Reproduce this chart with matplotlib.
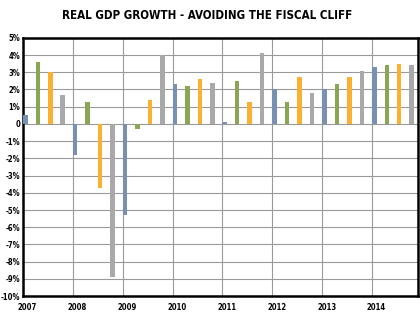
import matplotlib
matplotlib.use("Agg")
import matplotlib.pyplot as plt

years = [2007, 2008, 2009, 2010, 2011, 2012, 2013, 2014]
quarter_colors = ["#7890B2", "#8BA653", "#FCB02F", "#A9A9A9"]
# real GDP growth per quarter (%), Q1..Q4 for each year
growth = [
    [0.5, 3.6, 3.0, 1.7],
    [-1.8, 1.3, -3.7, -8.9],
    [-5.3, -0.3, 1.4, 4.0],
    [2.3, 2.2, 2.6, 2.4],
    [0.1, 2.5, 1.3, 4.1],
    [2.0, 1.3, 2.7, 1.8],
    [2.0, 2.3, 2.7, 3.1],
    [3.3, 3.4, 3.5, 3.4],
]
y_ticks = list(range(5, -11, -1))
y_labels = ["0" if v == 0 else f"{v}%" for v in y_ticks]

txt = dict(family="DejaVu Sans", fontstretch="condensed", fontweight="bold")

fig = plt.figure(figsize=(4.2, 3.29), dpi=100)
ax = fig.add_axes([0.055, 0.1, 0.94, 0.785])

for i, yr in enumerate(years):
    for q in range(4):
        ax.bar(yr + q * 0.25, growth[i][q], width=0.09, align="edge",
               color=quarter_colors[q], zorder=3)

ax.set_xlim(2007, 2014.92)
ax.set_ylim(-10, 5)
ax.set_yticks(y_ticks)
ax.set_yticklabels(y_labels, fontsize=5.5, **txt)
ax.set_xticks(years)
ax.set_xticklabels([])
for yr in years:
    ax.text(yr + 0.09, -10.65, str(yr), ha="center", va="center",
            fontsize=5.5, **txt)
ax.tick_params(length=0, pad=2)
ax.grid(True, color="#9a9a9a", linewidth=0.8, zorder=0)
for sp in ax.spines.values():
    sp.set_linewidth(1.8)
    sp.set_color("black")

fig.text(0.493, 0.953, "REAL GDP GROWTH - AVOIDING THE FISCAL CLIFF",
         ha="center", va="center", fontsize=8.3, **txt)

fig.savefig("out.png", dpi=100)
